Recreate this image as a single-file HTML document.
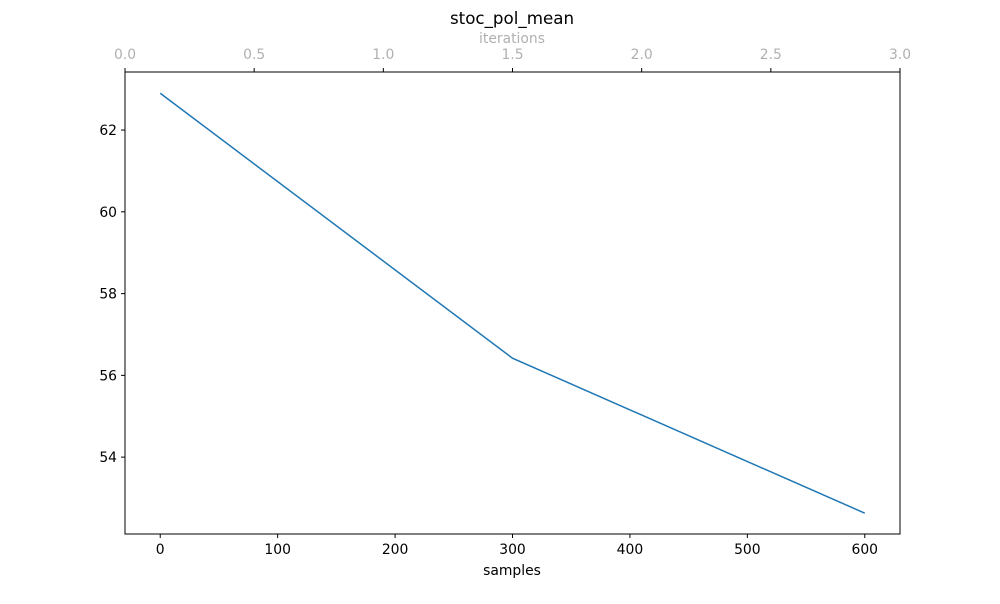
<!DOCTYPE html>
<html><head><meta charset="utf-8"><style>
body{margin:0;background:#fff;font-family:"DejaVu Sans","Liberation Sans",sans-serif;}
</style></head><body>
<svg width="1000" height="600" xmlns="http://www.w3.org/2000/svg" font-family="DejaVu Sans, Liberation Sans, sans-serif">
<rect width="1000" height="600" fill="#fff"/>
<g id="g"></g>
</svg>
<script>
const samples=[0,300,600];
const values=[62.9,56.42,52.63];
const xTicks=[0,100,200,300,400,500,600];
const yTicks=[54,56,58,60,62];
const topTicks=[0.0,0.5,1.0,1.5,2.0,2.5,3.0];
const L=125,R=900,T=72,B=534;
const xmin=-30,xmax=630,ymin=52.12,ymax=63.42;
const sx=v=>L+(v-xmin)/(xmax-xmin)*(R-L);
const sy=v=>B-(v-ymin)/(ymax-ymin)*(B-T);
const st=v=>L+v/3*(R-L);
const g=document.getElementById('g');
const NS='http://www.w3.org/2000/svg';
function mk(t,a,txt){const e=document.createElementNS(NS,t);for(const k in a)e.setAttribute(k,a[k]);if(txt!==undefined)e.textContent=txt;g.appendChild(e);return e;}
let e;
e=mk('rect',{x:L,y:T,width:R-L,height:B-T,fill:'none',stroke:'#000','stroke-width':1});


xTicks.forEach(v=>{const x=sx(v);
e=mk('line',{x1:x,x2:x,y1:B,y2:B+4,stroke:'#000'});


e=mk('text',{x:x,y:B+20,'text-anchor':'middle','font-size':13.9,fill:'#000'},String(v));

});
yTicks.forEach(v=>{const y=sy(v);
e=mk('line',{x1:L-4,x2:L,y1:y,y2:y,stroke:'#000'});


e=mk('text',{x:L-8,y:y+5,'text-anchor':'end','font-size':13.9,fill:'#000'},String(v));

});
topTicks.forEach(v=>{const x=st(v);
e=mk('line',{x1:x,x2:x,y1:T-4,y2:T,stroke:'#000'});


e=mk('text',{x:x,y:T-13,'text-anchor':'middle','font-size':13.9,fill:'#b0b0b0'},v.toFixed(1));

});
e=mk('text',{x:512,y:575,'text-anchor':'middle','font-size':13.9},'samples');


e=mk('text',{x:512,y:43,'text-anchor':'middle','font-size':13.9,fill:'#b0b0b0'},'iterations');


e=mk('text',{x:512,y:24,'text-anchor':'middle','font-size':16.7},'stoc_pol_mean');


e=mk('polyline',{points:samples.map((s,i)=>sx(s)+','+sy(values[i])).join(' '),fill:'none',stroke:'#1f77b4','stroke-width':1.5});


</script>
</body></html>
